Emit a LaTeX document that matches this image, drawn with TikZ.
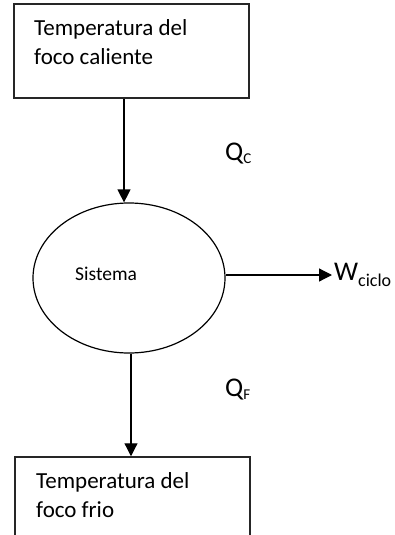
\documentclass[tikz,border=0pt]{standalone}
\usepackage{fontspec}
\setmainfont{Carlito}
\usetikzlibrary{shapes.geometric,arrows.meta}
\begin{document}
\begin{tikzpicture}[x=1pt,y=-1pt,
 box/.style={draw=black!85, line width=1.5pt, minimum width=235pt, inner sep=0pt},
 lbl/.style={anchor=base west, inner sep=0pt, font=\fontsize{23}{27}\selectfont},
 sym/.style={anchor=base west, inner sep=0pt, font=\fontsize{27}{30}\selectfont},
 arr/.style={-{Triangle[length=13pt,width=13pt]}, line width=1.2pt}]
\useasboundingbox (0,0) rectangle (395,535);
\clip (0,0) rectangle (395,535);
% boxes
\node[box, minimum height=94pt] (hot) at (131.5,51) {};
\node[lbl] (hot1) at (34,36) {Temperatura del};
\node[lbl] (hot2) at (34,65) {foco caliente};
\node[box, minimum height=90pt] (cold) at (132.5,502) {};
\node[lbl] (cold1) at (36,488) {Temperatura del};
\node[lbl] (cold2) at (36,517) {foco frio};
% system
\node[ellipse, draw, line width=1.2pt, minimum width=192pt, minimum height=150pt, inner sep=0pt] (sys) at (129,278) {};
\node[anchor=base west, inner sep=0pt, font=\fontsize{19.5}{22}\selectfont] (systxt) at (75,280) {Sistema};
% labels
\node[sym] (qc) at (225,160) {Q{\fontsize{15}{15}\selectfont\raisebox{-3pt}{C}}};
\node[sym] (qf) at (225,396) {Q{\fontsize{15}{15}\selectfont\raisebox{-3pt}{F}}};
\node[sym] (w) at (334,280) {W{\fontsize{18}{18}\selectfont\raisebox{-6pt}{ciclo}}};
% arrows
\draw[arr] ([xshift=-7.5pt]hot.south) -- ([xshift=-5pt]sys.north);
\draw[arr] ([xshift=2pt]sys.south) -- ([xshift=-1.5pt]cold.north);
\draw[arr, shorten >=2pt] ([yshift=3pt]sys.east) -- ([yshift=3pt]sys.east -| w.west);
\end{tikzpicture}
\end{document}
